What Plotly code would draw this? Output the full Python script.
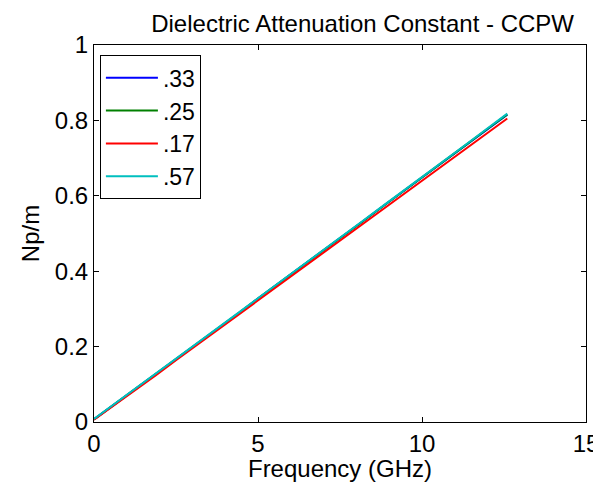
import plotly.graph_objects as go

freq_ghz = [0.0, 0.63, 1.26, 1.89, 2.52, 3.15, 3.78, 4.41, 5.04, 5.67, 6.30,
            6.93, 7.56, 8.19, 8.82, 9.45, 10.08, 10.71, 11.34, 11.97, 12.6]

alpha_033 = [0.007, 0.047, 0.087, 0.127, 0.167, 0.208, 0.249, 0.288, 0.330, 0.370, 0.411,
             0.451, 0.492, 0.532, 0.573, 0.613, 0.654, 0.694, 0.735, 0.775, 0.815]
alpha_025 = [0.007, 0.047, 0.087, 0.127, 0.168, 0.208, 0.249, 0.289, 0.330, 0.370, 0.411,
             0.451, 0.492, 0.532, 0.573, 0.613, 0.654, 0.695, 0.735, 0.776, 0.816]
alpha_017 = [0.006, 0.045, 0.085, 0.124, 0.165, 0.205, 0.245, 0.284, 0.325, 0.364, 0.405,
             0.444, 0.485, 0.524, 0.564, 0.603, 0.644, 0.683, 0.724, 0.763, 0.805]
alpha_057 = [0.008, 0.048, 0.088, 0.128, 0.169, 0.209, 0.250, 0.290, 0.331, 0.371, 0.412,
             0.452, 0.493, 0.533, 0.574, 0.614, 0.655, 0.696, 0.736, 0.777, 0.818]

series_names = [".33", ".25", ".17", ".57"]
series_values = [alpha_033, alpha_025, alpha_017, alpha_057]
series_colors = ["#0000ff", "#008000", "#ff0000", "#00bfbf"]

x_ticks = [0, 5, 10, 15]
y_ticks = [0, 0.2, 0.4, 0.6, 0.8, 1]
y_tick_labels = ["0", "0.2", "0.4", "0.6", "0.8", "1"]

FONT = "Liberation Sans, Arial, Helvetica, sans-serif"

fig = go.Figure()
for name, vals, col in zip(series_names, series_values, series_colors):
    fig.add_trace(go.Scatter(x=freq_ghz, y=vals, mode="lines", name=name,
                             line=dict(color=col, width=2)))

axis_common = dict(showline=True, linecolor="black", linewidth=1, mirror="ticks",
                   ticks="inside", ticklen=5, tickcolor="black", showgrid=False,
                   zeroline=False, tickfont=dict(family=FONT, size=24, color="black"))

fig.update_layout(
    width=593, height=474,
    margin=dict(l=86, r=15, t=37, b=60, autoexpand=False),
    paper_bgcolor="white", plot_bgcolor="white",
    title=dict(text="Dielectric Attenuation Constant - CCPW", x=0.598, xanchor="center",
               y=0.968, yanchor="middle",
               font=dict(family=FONT, size=24, color="black")),
    xaxis=dict(range=[0, 15], tickvals=x_ticks, ticktext=[str(t) for t in x_ticks],
               title=dict(text="Frequency (GHz)", font=dict(family=FONT, size=24, color="black"),
                          standoff=2),
               **axis_common),
    yaxis=dict(range=[0, 1], tickvals=y_ticks, ticktext=y_tick_labels,
               title=dict(text="Np/m", font=dict(family=FONT, size=24, color="black"),
                          standoff=8),
               **axis_common),
    legend=dict(x=0.012, y=0.973, xanchor="left", yanchor="top",
                bgcolor="white", bordercolor="black", borderwidth=1,
                itemwidth=52,
                font=dict(family=FONT, size=23, color="black")),
    showlegend=True,
)

fig.write_html("out.html")
